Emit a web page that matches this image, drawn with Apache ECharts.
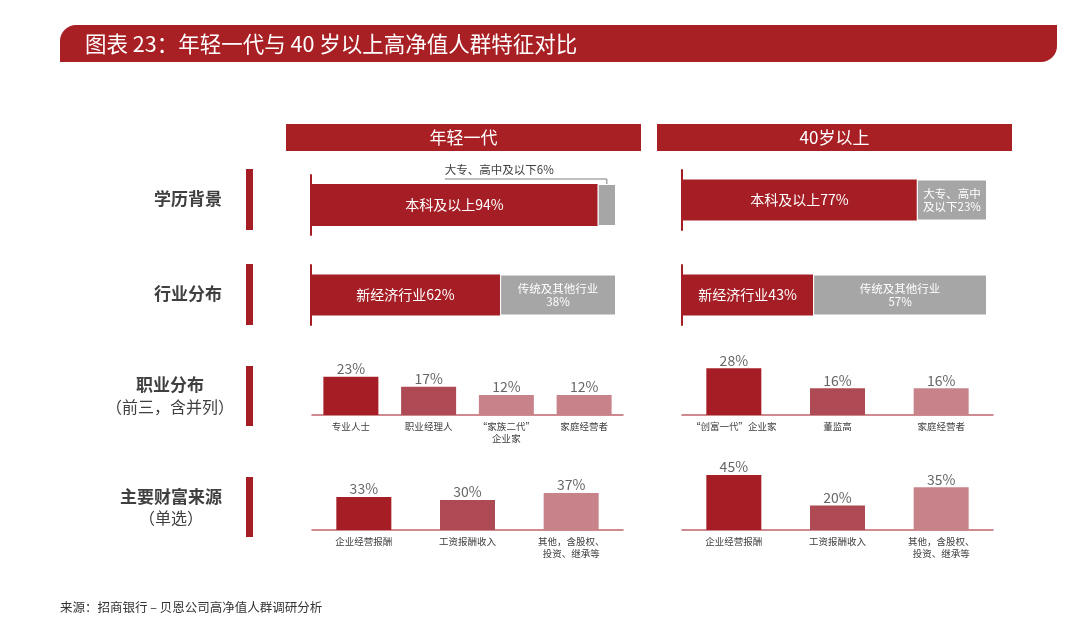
<!DOCTYPE html>
<html><head><meta charset="utf-8">
<script src="https://cdn.jsdelivr.net/npm/echarts@6/dist/echarts.min.js"></script>
<style>html,body{margin:0;padding:0;background:#fff}#c{width:1080px;height:630px}</style>
</head><body><div id="c"></div>
<script>
const eduYoung = [94, 6];
const eduOld = [77, 23];
const indYoung = [62, 38];
const indOld = [43, 57];
const eduYoungLabels = ['本科及以上94%', ''];
const eduOldLabels = ['本科及以上77%', '大专、高中\n及以下23%'];
const indYoungLabels = ['新经济行业62%', '传统及其他行业\n38%'];
const indOldLabels = ['新经济行业43%', '传统及其他行业\n57%'];
const jobYoungCats = ['专业人士', '职业经理人', '“家族二代”\n企业家', '家庭经营者'];
const jobYoungVals = [23, 17, 12, 12];
const jobOldCats = ['“创富一代”企业家', '董监高', '家庭经营者'];
const jobOldVals = [28, 16, 16];
const wealthCats = ['企业经营报酬', '工资报酬收入', '其他，含股权、\n投资、继承等'];
const wealthYoung = [33, 30, 37];
const wealthOld = [45, 20, 35];
const groupTitles = ['年轻一代', '40岁以上'];
const rowTitles = ['学历背景', '行业分布', '职业分布', '主要财富来源'];

const FONT = '"Noto Sans CJK SC", "Noto Sans", sans-serif';
const RED = '#A61E25', GRAY = '#A6A6A6';
const barColors4 = ['#A61E25', '#AE4A53', '#C8838A', '#C8838A'];
const barColors3 = ['#A61E25', '#AE4A53', '#C8838A'];

const chart = echarts.init(document.getElementById('c'), null, {renderer: 'canvas'});

const hGrids = [
  {left: 311, width: 305, top: 175, height: 60},
  {left: 682, width: 305, top: 170, height: 60},
  {left: 311, width: 305, top: 265, height: 60},
  {left: 682, width: 305, top: 265, height: 60}
];
const vGrids = [
  {left: 312, width: 311, top: 365, height: 50},
  {left: 682, width: 311, top: 365, height: 50},
  {left: 312, width: 311, top: 485, height: 45},
  {left: 682, width: 311, top: 475, height: 55}
];
const vMax = [30, 30, 45, 45];
const hData = [eduYoung, eduOld, indYoung, indOld];
const hLabels = [eduYoungLabels, eduOldLabels, indYoungLabels, indOldLabels];
const hBarW = [42, 41, 41, 41];
const vCats = [jobYoungCats, jobOldCats, wealthCats, wealthCats];
const vVals = [jobYoungVals, jobOldVals, wealthYoung, wealthOld];

const grid = [], xAxis = [], yAxis = [], series = [];
hGrids.forEach((g, i) => {
  grid.push(Object.assign({containLabel: false}, g));
  xAxis.push({gridIndex: i, type: 'value', min: 0, max: 100, show: false});
  yAxis.push({gridIndex: i, type: 'category', data: ['a'],
    axisLine: {show: true, lineStyle: {color: RED, width: 2}},
    axisTick: {show: false}, axisLabel: {show: false}, splitLine: {show: false}});
  [0, 1].forEach(k => {
    series.push({
      type: 'bar', xAxisIndex: i, yAxisIndex: i, stack: 's' + i,
      barWidth: hBarW[i], silent: true,
      data: [hData[i][k]],
      itemStyle: {color: k === 0 ? RED : GRAY, borderColor: '#fff', borderWidth: k === 1 ? 1 : 0},
      label: {show: hLabels[i][k] !== '', position: 'inside', formatter: hLabels[i][k],
        color: '#fff', fontFamily: FONT,
        fontSize: k === 0 ? 14 : 11.5, lineHeight: k === 0 ? 16 : 13}
    });
  });
});
vGrids.forEach((g, j) => {
  const i = j + 4;
  grid.push(Object.assign({containLabel: false}, g));
  xAxis.push({gridIndex: i, type: 'category', data: vCats[j],
    axisLine: {show: true, lineStyle: {color: '#C0646C', width: 1.5}},
    axisTick: {show: false},
    axisLabel: {interval: 0, fontSize: 9.5, color: '#404040', margin: 5, lineHeight: 12, fontFamily: FONT}});
  yAxis.push({gridIndex: i, type: 'value', min: 0, max: vMax[j], show: false});
  const cols = vVals[j].length === 4 ? barColors4 : barColors3;
  series.push({
    type: 'bar', xAxisIndex: i, yAxisIndex: i, barWidth: 55, silent: true,
    data: vVals[j].map((v, k) => ({value: v, itemStyle: {color: cols[k]}})),
    label: {show: true, position: 'top', distance: 1, formatter: '{c}%', fontSize: 14,
      color: '#666', fontFamily: FONT}
  });
});

const graphics = [
  {type: 'rect', shape: {x: 60, y: 25, width: 997, height: 37, r: [16, 0, 16, 0]}, style: {fill: '#A81F24'}, silent: true},
  {type: 'text', x: 85, y: 44, style: {text: '图表 23：年轻一代与 40 岁以上高净值人群特征对比', fill: '#fff', fontSize: 21.5,
    fontFamily: FONT, verticalAlign: 'middle'}},
  {type: 'rect', shape: {x: 286, y: 124, width: 355, height: 27}, style: {fill: '#A81F24'}},
  {type: 'rect', shape: {x: 657, y: 124, width: 355, height: 27}, style: {fill: '#A81F24'}},
  {type: 'text', x: 463.5, y: 138, style: {text: groupTitles[0], fill: '#fff', fontSize: 17, fontFamily: FONT, align: 'center', verticalAlign: 'middle'}},
  {type: 'text', x: 834.5, y: 138, style: {text: groupTitles[1], fill: '#fff', fontSize: 17, fontFamily: FONT, align: 'center', verticalAlign: 'middle'}},
  {type: 'rect', shape: {x: 246, y: 169, width: 7, height: 61}, style: {fill: RED}},
  {type: 'rect', shape: {x: 246, y: 264, width: 7, height: 61}, style: {fill: RED}},
  {type: 'rect', shape: {x: 246, y: 366, width: 7, height: 60}, style: {fill: RED}},
  {type: 'rect', shape: {x: 246, y: 477, width: 7, height: 60}, style: {fill: RED}},
  {type: 'text', x: 222, y: 199, style: {text: rowTitles[0], fill: '#404040', fontSize: 17, fontWeight: 'bold', fontFamily: FONT, align: 'right', verticalAlign: 'middle'}},
  {type: 'text', x: 222, y: 294, style: {text: rowTitles[1], fill: '#404040', fontSize: 17, fontWeight: 'bold', fontFamily: FONT, align: 'right', verticalAlign: 'middle'}},
  {type: 'text', x: 170, y: 385, style: {text: rowTitles[2], fill: '#404040', fontSize: 17, fontWeight: 'bold', fontFamily: FONT, align: 'center', verticalAlign: 'middle'}},
  {type: 'text', x: 170, y: 407, style: {text: '（前三，含并列）', fill: '#404040', fontSize: 16, fontFamily: FONT, align: 'center', verticalAlign: 'middle'}},
  {type: 'text', x: 171, y: 497, style: {text: rowTitles[3], fill: '#404040', fontSize: 17, fontWeight: 'bold', fontFamily: FONT, align: 'center', verticalAlign: 'middle'}},
  {type: 'text', x: 171, y: 518, style: {text: '（单选）', fill: '#404040', fontSize: 16, fontFamily: FONT, align: 'center', verticalAlign: 'middle'}},
  {type: 'text', x: 60, y: 607, style: {text: '来源：招商银行 – 贝恩公司高净值人群调研分析', fill: '#333', fontSize: 12.5, fontFamily: FONT, verticalAlign: 'middle'}}
];

chart.setOption({animation: false, grid, xAxis, yAxis, series, graphic: graphics});

const p = chart.convertToPixel({xAxisIndex: 0, yAxisIndex: 0}, [eduYoung[0] + eduYoung[1] / 2, 0]);
const barTop = p[1] - hBarW[0] / 2;
const startX = p[0] - 162;
graphics.push(
  {type: 'polyline', shape: {points: [[startX, barTop - 5], [p[0], barTop - 5], [p[0], barTop + 6]]},
    style: {stroke: '#7f7f7f', lineWidth: 1, fill: null}},
  {type: 'text', x: startX, y: barTop - 14, style: {text: '大专、高中及以下' + eduYoung[1] + '%', fill: '#404040', fontSize: 11.5, fontFamily: FONT, verticalAlign: 'middle'}}
);
chart.setOption({graphic: graphics});
</script></body></html>
